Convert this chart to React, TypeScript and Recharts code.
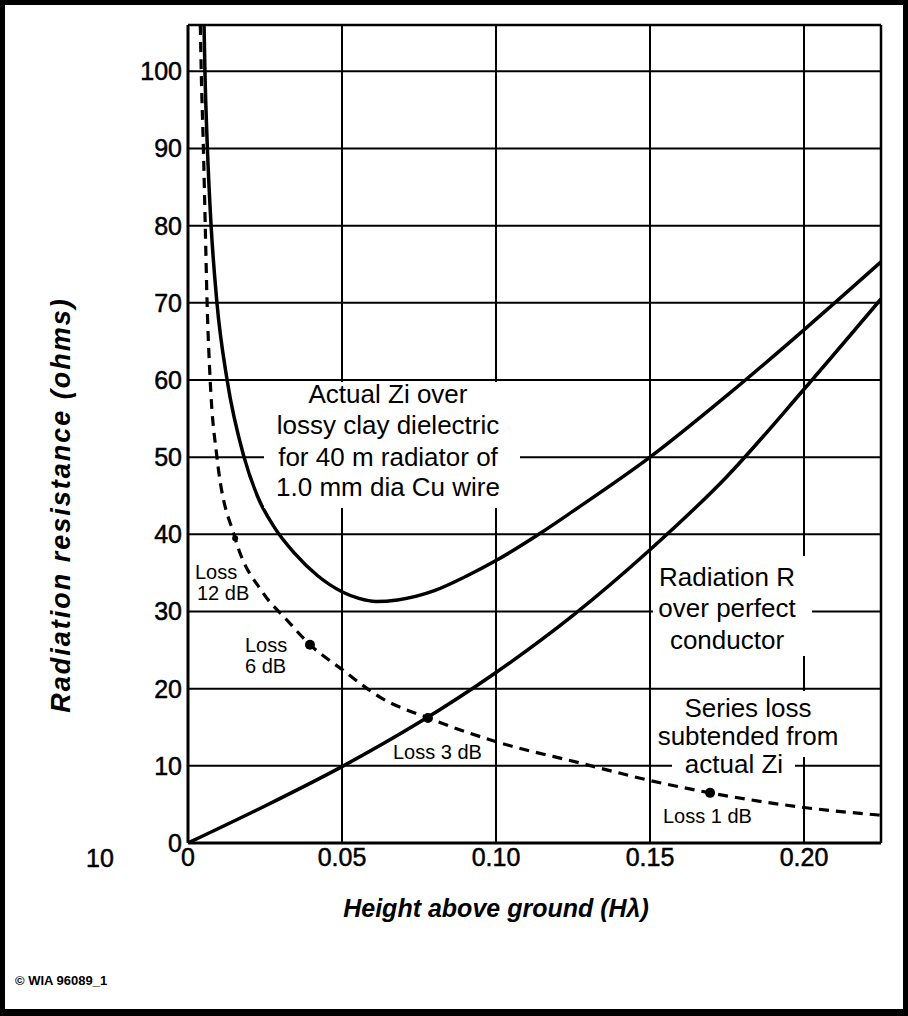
import React from "react";
import {
  ComposedChart,
  Line,
  Scatter,
  XAxis,
  YAxis,
  CartesianGrid,
  ReferenceLine,
} from "recharts";

// Actual Zi over lossy clay (solid, upper curve)
const ziH = [0.0052, 0.0055, 0.0063, 0.0075, 0.0094, 0.0127, 0.0182, 0.0227, 0.0282, 0.0347, 0.0422, 0.0503, 0.0555, 0.061, 0.068, 0.08, 0.09, 0.1, 0.115, 0.125, 0.15, 0.175, 0.2, 0.225];
const ziR = [106, 100, 90, 80, 70, 60, 50, 44.8, 40.8, 37.5, 34.6, 32.5, 31.7, 31.3, 31.5, 32.7, 34.5, 36.6, 40.3, 43.0, 50, 58, 66.5, 75.3];

// Radiation R over perfect conductor (solid, lower curve)
const radH = [0, 0.025, 0.05, 0.075, 0.1, 0.125, 0.15, 0.175, 0.2, 0.225];
const radR = [0, 4.8, 9.9, 15.6, 22.1, 29.5, 38.0, 47.5, 58.8, 70.5];

// Series loss subtended from actual Zi (dashed)
const lossH = [0.004, 0.0043, 0.005, 0.0056, 0.0062, 0.0072, 0.0094, 0.0153, 0.0244, 0.0321, 0.0396, 0.0503, 0.0623, 0.078, 0.1003, 0.127, 0.15, 0.1695, 0.2, 0.225];
const lossR = [106, 100, 90, 80, 70, 60, 50, 39.5, 32.4, 28.9, 25.7, 22.4, 18.9, 16.2, 13.1, 10.4, 8.1, 6.5, 4.6, 3.6];

// marked loss points: 12, 6, 3, 1 dB
const markH = [0.0153, 0.0396, 0.0779, 0.1695];
const markR = [39.5, 25.7, 16.2, 6.5];
const markSize = [3, 5, 5, 5];

const xTicks = [0, 0.05, 0.1, 0.15, 0.2];
const yTicks = [0, 10, 20, 30, 40, 50, 60, 70, 80, 90, 100];
const X_MAX = 0.225;
const Y_MAX = 106;

const pts = (hs: number[], rs: number[]) => hs.map((h, i) => ({ h, r: rs[i] }));

const FONT = "'Liberation Sans', Arial, Helvetica, sans-serif";
const tickStyle = { fontSize: 25, fill: "#000", stroke: "#000", strokeWidth: 0.5, fontFamily: FONT };

export default function App() {
  return (
    <div style={{ position: "relative", width: 908, height: 1016, background: "#fff", fontFamily: FONT }}>
      <style>{"body{margin:0}"}</style>
      <div style={{ position: "absolute", left: 0, top: 0 }}>
        <ComposedChart width={908} height={1016} margin={{ top: 25, right: 27, bottom: 143, left: 108 }}>
          <CartesianGrid stroke="#000" strokeWidth={2} />
          <XAxis
            type="number"
            dataKey="h"
            domain={[0, X_MAX]}
            ticks={xTicks}
            allowDataOverflow
            height={30}
            tickLine={false}
            tickSize={0}
            tickMargin={5}
            axisLine={{ stroke: "#000", strokeWidth: 3 }}
            tick={tickStyle}
            tickFormatter={(v: number) => (v === 0 ? "0" : v.toFixed(2))}
          />
          <YAxis
            type="number"
            dataKey="r"
            domain={[0, Y_MAX]}
            ticks={yTicks}
            allowDataOverflow
            width={80}
            tickLine={false}
            tickSize={0}
            tickMargin={6}
            axisLine={{ stroke: "#000", strokeWidth: 3 }}
            tick={tickStyle}
          />
          <ReferenceLine y={Y_MAX} stroke="#000" strokeWidth={2.5} />
          <ReferenceLine x={X_MAX} stroke="#000" strokeWidth={2.5} />
          <Line
            data={pts(ziH, ziR)}
            dataKey="r"
            type="monotone"
            stroke="#000"
            strokeWidth={3.5}
            dot={false}
            isAnimationActive={false}
          />
          <Line
            data={pts(radH, radR)}
            dataKey="r"
            type="monotone"
            stroke="#000"
            strokeWidth={3.5}
            dot={false}
            isAnimationActive={false}
          />
          <Line
            data={pts(lossH, lossR)}
            dataKey="r"
            type="monotone"
            stroke="#000"
            strokeWidth={3.2}
            strokeDasharray="10 7"
            dot={false}
            isAnimationActive={false}
          />
          <Scatter
            data={pts(markH, markR)}
            dataKey="r"
            fill="#000"
            isAnimationActive={false}
            shape={(p: any) => <circle cx={p.cx} cy={p.cy} r={markSize[p.index] ?? 5} fill="#000" />}
          />
        </ComposedChart>
      </div>

      {/* annotations */}
      <svg width={908} height={1016} style={{ position: "absolute", left: 0, top: 0, pointerEvents: "none" }}>
        <g fill="#fff">
          <rect x={264} y={382} width={256} height={126} />
          <rect x={653} y={556} width={159} height={100} />
          <rect x={653} y={691} width={192} height={66} />
          <rect x={672} y={756} width={123} height={20} />
        </g>
        <g fontFamily={FONT} fill="#000" fontSize={26} textAnchor="middle" dominantBaseline="central">
          <text x={388} y={394}>Actual Zi over</text>
          <text x={388} y={425}>lossy clay dielectric</text>
          <text x={388} y={457}>for 40 m radiator of</text>
          <text x={388} y={487}>1.0 mm dia Cu wire</text>

          <text x={727} y={577}>Radiation R</text>
          <text x={727} y={608}>over perfect</text>
          <text x={727} y={640}>conductor</text>

          <text x={748} y={708}>Series loss</text>
          <text x={748} y={736}>subtended from</text>
          <text x={734} y={764}>actual Zi</text>
        </g>
        <g fontFamily={FONT} fill="#000" fontSize={20} dominantBaseline="central">
          <text x={195} y={572}>Loss</text>
          <text x={197} y={593}>12 dB</text>
          <text x={245} y={645}>Loss</text>
          <text x={245} y={666}>6 dB</text>
          <text x={393} y={752}>Loss 3 dB</text>
          <text x={663} y={816}>Loss 1 dB</text>
        </g>
        <text
          x={100}
          y={858}
          fontFamily={FONT}
          fontSize={25}
          stroke="#000"
          strokeWidth={0.5}
          textAnchor="middle"
          dominantBaseline="central"
        >
          10
        </text>
        <text
          x={496}
          y={908}
          fontFamily={FONT}
          fontSize={25}
          fontWeight="bold"
          fontStyle="italic"
          textAnchor="middle"
          dominantBaseline="central"
        >
          Height above ground (Hλ)
        </text>
        <text
          transform="translate(61,505) rotate(-90)"
          fontFamily={FONT}
          fontSize={27}
          fontWeight="bold"
          fontStyle="italic"
          letterSpacing={2}
          textAnchor="middle"
          dominantBaseline="central"
        >
          Radiation resistance (ohms)
        </text>
        <text x={15} y={980} fontFamily={FONT} fontSize={13} fontWeight="bold" dominantBaseline="central">
          © WIA 96089_1
        </text>
      </svg>
      <div
        style={{
          position: "absolute",
          inset: 0,
          borderStyle: "solid",
          borderColor: "#000",
          borderWidth: "5px 5px 7px 5px",
          pointerEvents: "none",
        }}
      />
    </div>
  );
}
